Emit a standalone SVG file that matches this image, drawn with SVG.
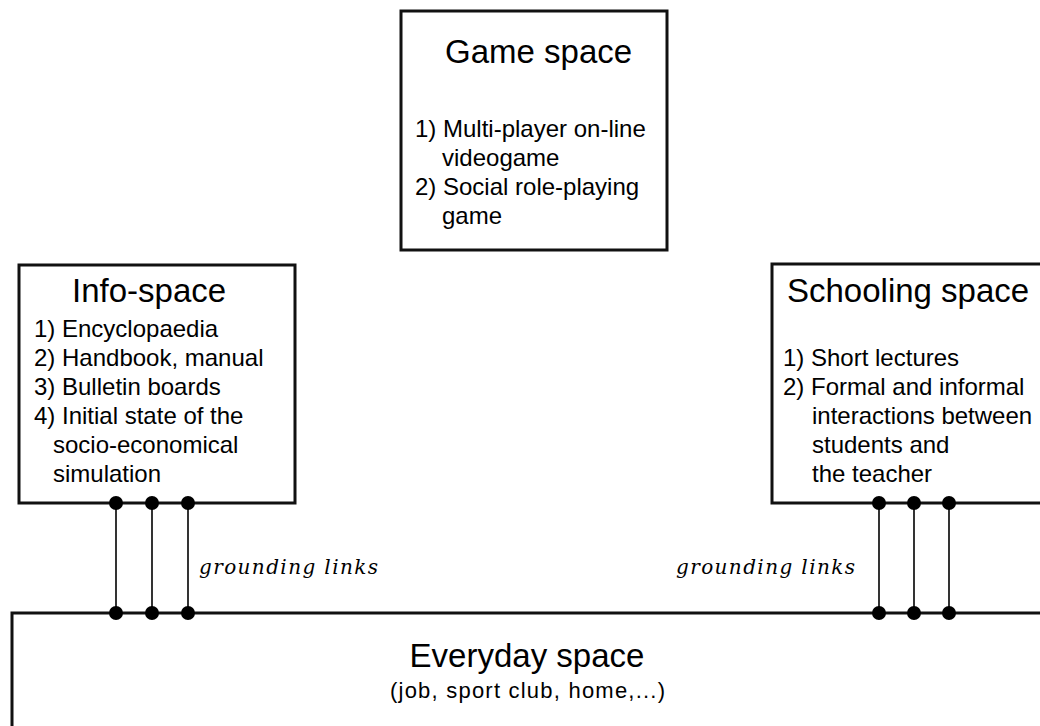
<svg xmlns="http://www.w3.org/2000/svg" width="1040" height="726" viewBox="0 0 1040 726">
<style>
.box{fill:#fff;stroke:#111;stroke-width:3}
.title{font-family:"Liberation Sans",Arial,sans-serif;font-size:33px;fill:#000}
.item{font-family:"Liberation Sans",Arial,sans-serif;font-size:24px;fill:#000}
.sub{font-family:"Liberation Sans",Arial,sans-serif;font-size:22px;fill:#000}
.lbl{font-family:"DejaVu Serif",serif;font-style:italic;font-size:20px;fill:#000}
.link{stroke:#000;stroke-width:1.6;fill:none}
.dot{fill:#000}
</style>
<rect width="1040" height="726" fill="#fff"/>
<g id="everyday">
<rect class="box" x="12" y="613" width="1060" height="140"/>
<text class="title" x="527" y="667" text-anchor="middle">Everyday space</text>
<text class="sub" x="390" y="698" textLength="275" lengthAdjust="spacing">(job, sport club, home,...)</text>
</g>
<g id="game">
<rect class="box" x="401" y="11" width="266" height="239"/>
<text class="title" x="445" y="63">Game space</text>
<text class="item" x="415" y="137">1) Multi-player on-line</text>
<text class="item" x="442" y="166">videogame</text>
<text class="item" x="415" y="195">2) Social role-playing</text>
<text class="item" x="442" y="224">game</text>
</g>
<g id="info">
<rect class="box" x="19" y="265" width="276" height="238"/>
<text class="title" x="72" y="302">Info-space</text>
<text class="item" x="34" y="337">1) Encyclopaedia</text>
<text class="item" x="34" y="366">2) Handbook, manual</text>
<text class="item" x="34" y="395">3) Bulletin boards</text>
<text class="item" x="34" y="424">4) Initial state of the</text>
<text class="item" x="53" y="453">socio-economical</text>
<text class="item" x="53" y="482">simulation</text>
</g>
<g id="schooling">
<rect class="box" x="772" y="264" width="300" height="239"/>
<text class="title" x="787" y="302">Schooling space</text>
<text class="item" x="783" y="366">1) Short lectures</text>
<text class="item" x="783" y="395">2) Formal and informal</text>
<text class="item" x="812" y="424">interactions between</text>
<text class="item" x="812" y="453">students and</text>
<text class="item" x="812" y="482">the teacher</text>
</g>
<g id="connectors">
<line class="link" x1="116" y1="503" x2="116" y2="613"/>
<line class="link" x1="152" y1="503" x2="152" y2="613"/>
<line class="link" x1="188" y1="503" x2="188" y2="613"/>
<line class="link" x1="879" y1="503" x2="879" y2="613"/>
<line class="link" x1="914" y1="503" x2="914" y2="613"/>
<line class="link" x1="949" y1="503" x2="949" y2="613"/>
<circle class="dot" cx="116" cy="503" r="7"/>
<circle class="dot" cx="152" cy="503" r="7"/>
<circle class="dot" cx="188" cy="503" r="7"/>
<circle class="dot" cx="116" cy="613" r="7"/>
<circle class="dot" cx="152" cy="613" r="7"/>
<circle class="dot" cx="188" cy="613" r="7"/>
<circle class="dot" cx="879" cy="503" r="7"/>
<circle class="dot" cx="914" cy="503" r="7"/>
<circle class="dot" cx="949" cy="503" r="7"/>
<circle class="dot" cx="879" cy="613" r="7"/>
<circle class="dot" cx="914" cy="613" r="7"/>
<circle class="dot" cx="949" cy="613" r="7"/>
<text class="lbl" x="199" y="574" textLength="179" lengthAdjust="spacing">grounding links</text>
<text class="lbl" x="676" y="574" textLength="179" lengthAdjust="spacing">grounding links</text>
</g>
</svg>
